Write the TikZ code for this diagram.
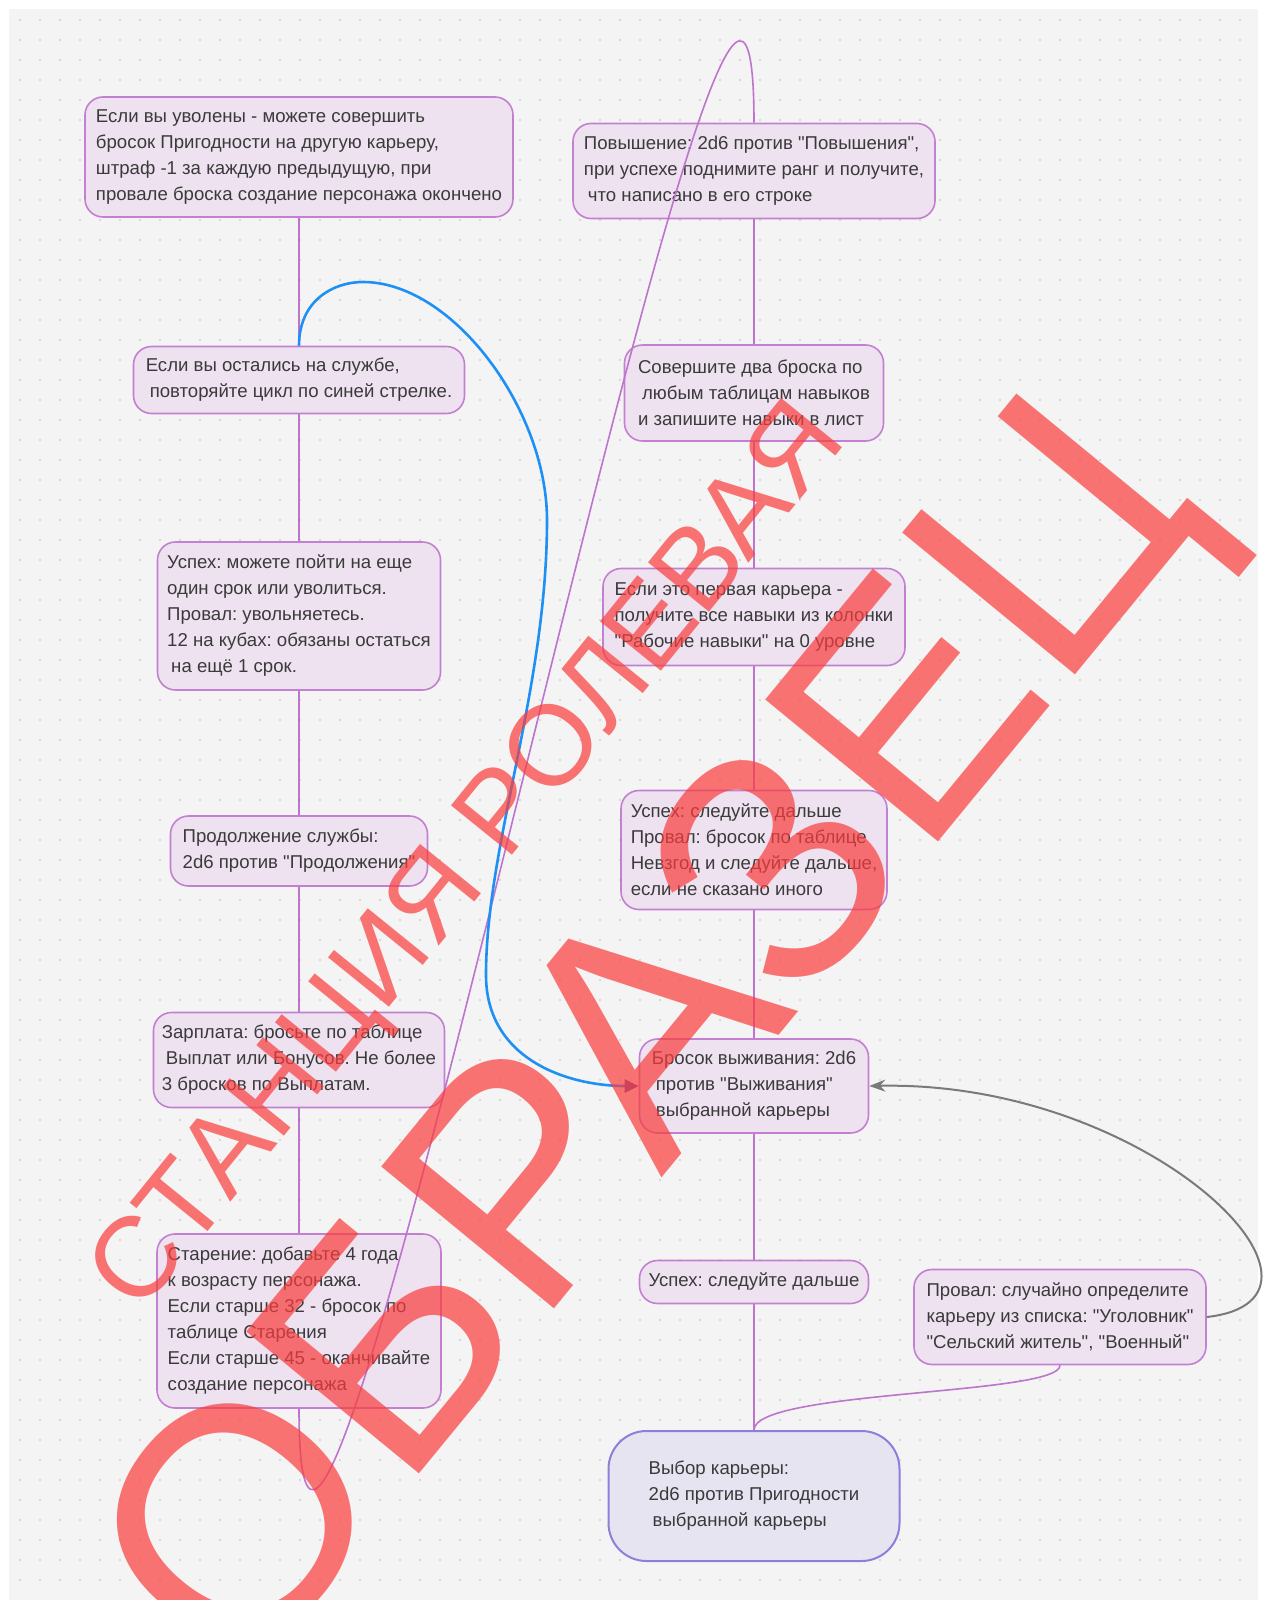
\documentclass[tikz,border=0pt]{standalone}
\usepackage{fontspec}
\setmainfont{Liberation Sans}[Ligatures=TeXOff]
\usetikzlibrary{arrows.meta}
\definecolor{canvas}{HTML}{F4F4F4}
\definecolor{griddot}{HTML}{D8D8D8}
\definecolor{boxfill}{HTML}{EEE2F0}
\definecolor{boxedge}{HTML}{C380D1}
\definecolor{linkpurple}{HTML}{BE74CC}
\definecolor{startfill}{HTML}{E7E4F2}
\definecolor{startedge}{HTML}{8E7EDC}
\definecolor{loopblue}{HTML}{1E90F5}
\definecolor{tipviolet}{HTML}{6E4AA3}
\definecolor{backgrey}{HTML}{7A7A7A}
\definecolor{textgrey}{HTML}{3A3A3A}
\definecolor{stampred}{HTML}{FA3C3C}
\frenchspacing
\begin{document}
\begin{tikzpicture}[x=1pt, y=-1pt,
    box/.style={draw=boxedge, fill=boxfill, line width=1.6pt, rounded corners=18pt, align=left, text=textgrey, font=\fontsize{18.6}{26}\selectfont, inner xsep=6pt, inner ysep=6pt},
    startbox/.style={box, draw=startedge, fill=startfill, line width=2pt, rounded corners=38pt},
    conn/.style={draw=linkpurple, line width=1.6pt},
    bluearrow/.style={draw=loopblue, line width=2.6pt, -{Triangle[length=14pt, width=13pt, color=tipviolet]}},
    greyarrow/.style={draw=backgrey, line width=2pt, -{Stealth[length=16pt, width=12pt]}},
    stamp/.style={text=stampred, text opacity=0.7, inner sep=0pt}]
  \useasboundingbox (0,0) rectangle (1267,1600);
  % canvas with dot grid
  \fill[white] (0,0) rectangle (1267,1600);
  \fill[canvas] (9,9) rectangle (1258,1600);
  \foreach \y in {20,40,...,1580}
    \draw[griddot, line width=2pt, dash pattern=on 2pt off 18pt] (19,\y) -- (1258,\y);

  % left column
  \node[box, minimum width=428pt, minimum height=120pt] (fired) at (299,157) {Если вы уволены - можете совершить\\бросок Пригодности на другую карьеру,\\штраф -1 за каждую предыдущую, при\\провале броска создание персонажа окончено};
  \node[box, minimum width=331pt, minimum height=67pt] (stay) at (299,380) {Если вы остались на службе,\\\hspace*{4pt}повторяйте цикл по синей стрелке.};
  \node[box, minimum width=283pt, minimum height=148pt] (success) at (299,616) {Успех: можете пойти на еще\\один срок или уволиться.\\Провал: увольняетесь.\\12 на кубах: обязаны остаться\\\hspace*{4pt}на ещё 1 срок.};
  \node[box, minimum width=257pt, minimum height=70pt] (cont) at (299,851) {Продолжение службы:\\2d6 против "Продолжения"};
  \node[box, minimum width=291pt, minimum height=95pt] (salary) at (299,1060) {Зарплата: бросьте по таблице\\\hspace*{4pt}Выплат или Бонусов. Не более\\3 бросков по Выплатам.};
  \node[box, minimum width=284pt, minimum height=174pt] (aging) at (299,1321) {Старение: добавьте 4 года\\к возрасту персонажа.\\Если старше 32 - бросок по\\таблице Старения\\Если старше 45 - оканчивайте\\создание персонажа};

  % right column
  \node[box, minimum width=362pt, minimum height=95pt] (promo) at (754,171) {Повышение: 2d6 против "Повышения",\\при успехе поднимите ранг и получите,\\\hspace*{4pt}что написано в его строке};
  \node[box, minimum width=259pt, minimum height=96pt] (skills) at (754,393) {Совершите два броска по\\\hspace*{4pt}любым таблицам навыков\\и запишите навыки в лист};
  \node[box, minimum width=302pt, minimum height=97pt] (first) at (754,617) {Если это первая карьера -\\получите все навыки из колонки\\"Рабочие навыки" на 0 уровне};
  \node[box, minimum width=266pt, minimum height=119pt] (result) at (754,850) {Успех: следуйте дальше\\Провал: бросок по таблице\\Невзгод и следуйте дальше,\\если не сказано иного};
  \node[box, minimum width=229pt, minimum height=94pt] (surv) at (754,1086) {Бросок выживания: 2d6\\\hspace*{4pt}против "Выживания"\\\hspace*{4pt}выбранной карьеры};
  \node[box, minimum width=229pt, minimum height=43pt] (survok) at (754,1282) {Успех: следуйте дальше};
  \node[box, minimum width=292pt, minimum height=95pt] (survfail) at (1060,1317) {Провал: случайно определите\\карьеру из списка: "Уголовник"\\"Сельский житель", "Военный"};
  \node[startbox, minimum width=291pt, minimum height=130pt] (choice) at (754,1496) {Выбор карьеры:\\2d6 против Пригодности\\\hspace*{4pt}выбранной карьеры};

  % connectors
  \foreach \a/\b in {fired/stay, stay/success, success/cont, cont/salary, salary/aging, promo/skills, skills/first, first/result, result/surv, surv/survok, survok/choice}
    \draw[conn] (\a.south) -- (\b.north);
  \draw[conn] (survfail.south) .. controls +(0,30) and +(0,-40) .. (choice.north);
  \draw[conn] (aging.south) .. controls +(0,542) and +(0,-545) .. (promo.north);
  \draw[bluearrow] (stay.north) .. controls +(0,-45) and +(-30,0) .. (363,282) .. controls +(90,0) and +(0,-110) .. (547,520) .. controls +(0,170) and +(0,-130) .. (486,975) .. controls +(0,85) and +(-70,0) .. (surv.west);
  \draw[greyarrow] (survfail.east) .. controls +(160,-18) and +(282,-6) .. (surv.east);

  % watermark
  \node[stamp, rotate=50.6, font=\fontsize{325}{325}\selectfont] (sample) at (664,1048) {ОБРАЗЕЦ};
  \node[stamp, rotate=51, font=\fontsize{114}{114}\selectfont] (station) at (472,860) {СТАНЦИЯ РОЛЕВАЯ};
\end{tikzpicture}
\end{document}
